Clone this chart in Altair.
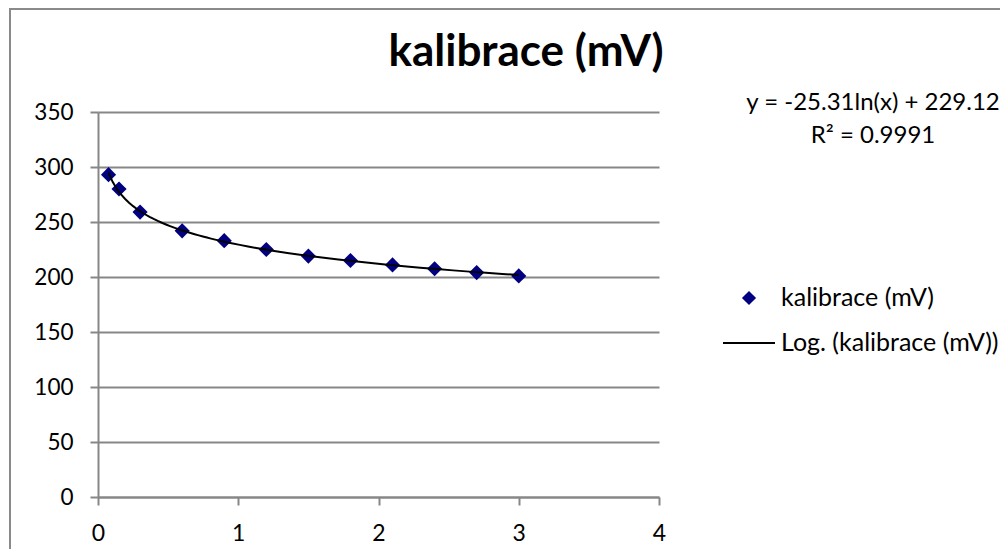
import altair as alt
import pandas as pd

# ---- data ----
x_vals = [0.075, 0.15, 0.3, 0.6, 0.9, 1.2, 1.5, 1.8, 2.1, 2.4, 2.7, 3.0]
y_vals = [293, 280, 259, 242, 233, 225, 219, 215, 211, 207.5, 204, 201]
x_ticks = [0, 1, 2, 3, 4]
y_ticks = [0, 50, 100, 150, 200, 250, 300, 350]
title_text = "kalibrace (mV)"
eq_line1 = "y = -25.31ln(x) + 229.12"
eq_line2 = "R² = 0.9991"
legend_labels = ["kalibrace (mV)", "Log. (kalibrace (mV))"]

W, H = 561, 385
FONT = "Lato"
GRAY = "#878787"
NAVY = "#000080"

df = pd.DataFrame({"x": x_vals, "y": y_vals})
one = pd.DataFrame({"k": [0]})

xs = alt.Scale(domain=[0, 4], nice=False, zero=False)
ys = alt.Scale(domain=[0, 350], nice=False)

x_axis = alt.Axis(values=x_ticks, title=None, grid=False, domainColor=GRAY, domainWidth=2,
                  tickColor=GRAY, tickWidth=2, tickSize=8, labelFont=FONT, labelFontSize=23,
                  labelColor="black", labelPadding=17, format="d", labelFlush=False)
y_axis = alt.Axis(values=y_ticks, title=None, grid=True, gridColor=GRAY, gridWidth=2,
                  domainColor=GRAY, domainWidth=2, tickColor=GRAY, tickWidth=2, tickSize=8,
                  labelFont=FONT, labelFontSize=22.5, labelColor="black", labelPadding=17)

base = alt.Chart(df)

points = base.mark_point(shape="diamond", filled=True, size=230, color=NAVY, opacity=1).encode(
    x=alt.X("x:Q", scale=xs, axis=x_axis),
    y=alt.Y("y:Q", scale=ys, axis=y_axis),
)

trend = base.transform_regression("x", "y", method="log").mark_line(
    color="black", strokeWidth=2
).encode(
    x=alt.X("x:Q", scale=xs),
    y=alt.Y("y:Q", scale=ys),
)

ann = alt.Chart(one)

border = ann.mark_rect(fillOpacity=0, stroke="#8a8a8a", strokeWidth=2).encode(
    x=alt.value(-88), x2=alt.value(1200), y=alt.value(-103), y2=alt.value(800)
)

title = ann.mark_text(text=title_text, font=FONT, fontSize=44, fontWeight="bold",
                      align="center", baseline="alphabetic", color="black").encode(
    x=alt.value(428), y=alt.value(-46)
)

eq1 = ann.mark_text(text=eq_line1, font=FONT, fontSize=24, align="center",
                    baseline="alphabetic", color="black").encode(x=alt.value(775), y=alt.value(-2))
eq2 = ann.mark_text(text=eq_line2, font=FONT, fontSize=24, align="center",
                    baseline="alphabetic", color="black").encode(x=alt.value(775), y=alt.value(31))

leg_sym = ann.mark_point(shape="diamond", filled=True, size=200, color=NAVY, opacity=1).encode(
    x=alt.value(651), y=alt.value(186)
)
leg_txt1 = ann.mark_text(text=legend_labels[0], font=FONT, fontSize=25, align="left",
                         baseline="middle", color="black").encode(x=alt.value(683), y=alt.value(186))
leg_line = ann.mark_rule(color="black", strokeWidth=2).encode(
    x=alt.value(625), x2=alt.value(677), y=alt.value(231)
)
leg_txt2 = ann.mark_text(text=legend_labels[1], font=FONT, fontSize=25, align="left",
                         baseline="middle", color="black").encode(x=alt.value(683), y=alt.value(231))

chart = alt.layer(
    border, points, trend, title, eq1, eq2, leg_sym, leg_txt1, leg_line, leg_txt2
).properties(
    width=W, height=H,
    autosize=alt.AutoSizeParams(type="none"),
    padding={"left": 90, "top": 104, "right": 341, "bottom": 52},
    background="white",
).configure_view(stroke=None)

chart.save("out.html", embed_options={"renderer": "svg", "actions": False})
